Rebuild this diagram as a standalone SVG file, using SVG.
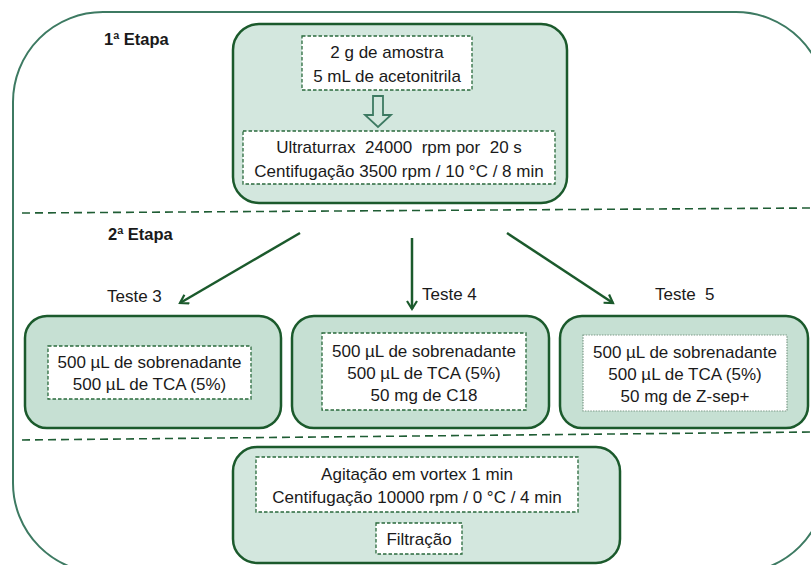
<svg xmlns="http://www.w3.org/2000/svg" width="811" height="565" viewBox="0 0 811 565">
  <defs>
    <style>
      .frame { fill: none; stroke: #3d7a62; stroke-width: 2; }
      .divider { fill: none; stroke: #1f5d34; stroke-width: 1.6; stroke-dasharray: 8 5; }
      .stage { fill: #d3e7de; stroke: #1b5a2c; stroke-width: 2.5; }
      .test { fill: #c6e0d3; stroke: #1b5a2c; stroke-width: 2.5; }
      .inner { fill: #ffffff; stroke: #2a6a3c; stroke-width: 1.3; stroke-dasharray: 3.5 2; }
      .inner-dot { fill: #ffffff; stroke: #7c9a88; stroke-width: 1.2; stroke-dasharray: 1.5 1.2; }
      .txt { font-family: "Liberation Sans", Arial, sans-serif; font-size: 17px; fill: #1a1a1a; text-anchor: middle; }
      .lbl { font-family: "Liberation Sans", Arial, sans-serif; font-size: 17px; fill: #1a1a1a; }
      .head { font-family: "Liberation Sans", Arial, sans-serif; font-size: 16.5px; font-weight: bold; fill: #1a1a1a; }
      .conn { fill: none; stroke: #1b5a2c; stroke-width: 2.5; }
    </style>
    <marker id="vhead" markerWidth="12" markerHeight="12" refX="9" refY="6" orient="auto" markerUnits="userSpaceOnUse">
      <path d="M1,1 L9,6 L1,11" fill="none" stroke="#1b5a2c" stroke-width="2.2"/>
    </marker>
  </defs>

  <!-- outer frame -->
  <rect class="frame" x="13" y="12" width="813" height="561" rx="90" ry="90"/>

  <!-- stage dividers -->
  <line class="divider" x1="22" y1="213" x2="811" y2="208"/>
  <line class="divider" x1="22" y1="440" x2="811" y2="432"/>

  <!-- stage headings -->
  <text class="head" x="104" y="45">1ª Etapa</text>
  <text class="head" x="108" y="240">2ª Etapa</text>

  <!-- stage 1 -->
  <g id="etapa1">
    <rect class="stage" x="233" y="24" width="334" height="179" rx="26" ry="26"/>
    <rect class="inner" x="302" y="36" width="170" height="54"/>
    <text class="txt" x="387" y="58">2 g de amostra</text>
    <text class="txt" x="387" y="82">5 mL de acetonitrila</text>
    <path d="M373,96 H383 V115 H391 L378,127 L365,115 H373 Z" fill="#d3e7de" stroke="#3d7a62" stroke-width="1.8"/>
    <rect class="inner" x="243" y="131" width="312" height="53"/>
    <text class="txt" x="399" y="153" xml:space="preserve">Ultraturrax  24000  rpm por  20 s</text>
    <text class="txt" x="399" y="177">Centifugação 3500 rpm / 10 °C / 8 min</text>
  </g>

  <!-- connectors -->
  <g id="connectors">
    <line class="conn" x1="300" y1="233" x2="180" y2="303" marker-end="url(#vhead)"/>
    <line class="conn" x1="412" y1="238" x2="412" y2="309" marker-end="url(#vhead)"/>
    <line class="conn" x1="507" y1="233" x2="613" y2="303" marker-end="url(#vhead)"/>
  </g>

  <!-- test labels -->
  <text class="lbl" x="107" y="302">Teste 3</text>
  <text class="lbl" x="422" y="300">Teste 4</text>
  <text class="lbl" x="655" y="300" xml:space="preserve">Teste  5</text>

  <!-- test 3 -->
  <g id="teste3">
    <rect class="test" x="25" y="316" width="256" height="112" rx="22" ry="22"/>
    <rect class="inner" x="48" y="346" width="203" height="53"/>
    <text class="txt" x="149.5" y="368">500 µL de sobrenadante</text>
    <text class="txt" x="149.5" y="390">500 µL de TCA (5%)</text>
  </g>

  <!-- test 4 -->
  <g id="teste4">
    <rect class="test" x="292" y="316" width="257" height="112" rx="22" ry="22"/>
    <rect class="inner" x="322" y="333" width="204" height="77"/>
    <text class="txt" x="424" y="357">500 µL de sobrenadante</text>
    <text class="txt" x="424" y="379">500 µL de TCA (5%)</text>
    <text class="txt" x="424" y="401">50 mg de C18</text>
  </g>

  <!-- test 5 -->
  <g id="teste5">
    <rect class="test" x="560" y="316" width="248" height="112" rx="22" ry="22"/>
    <rect class="inner-dot" x="583" y="335" width="204" height="76"/>
    <text class="txt" x="685" y="358">500 µL de sobrenadante</text>
    <text class="txt" x="685" y="380">500 µL de TCA (5%)</text>
    <text class="txt" x="685" y="402">50 mg de Z-sep+</text>
  </g>

  <!-- final step -->
  <g id="etapa3">
    <rect class="stage" x="233" y="447" width="387" height="116" rx="24" ry="24"/>
    <rect class="inner" x="256" y="457" width="322" height="55"/>
    <text class="txt" x="417" y="480">Agitação em vortex 1 min</text>
    <text class="txt" x="417" y="503">Centifugação 10000 rpm / 0 °C / 4 min</text>
    <rect class="inner" x="376" y="523" width="86" height="31"/>
    <text class="txt" x="419" y="545">Filtração</text>
  </g>
</svg>
